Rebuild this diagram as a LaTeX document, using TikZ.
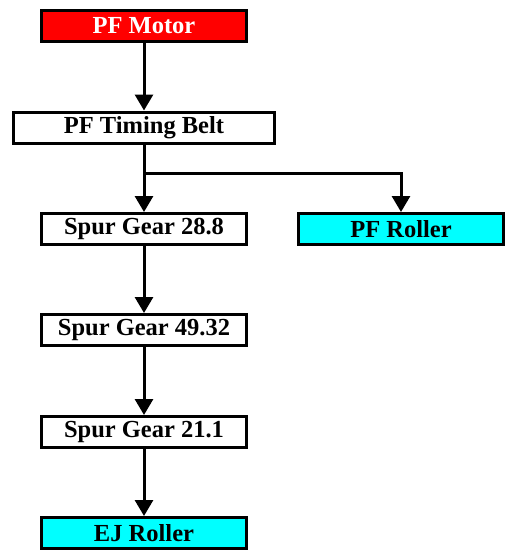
\documentclass[tikz,border=0pt]{standalone}
\usepackage{fontspec}
\setmainfont{Liberation Serif}
\usetikzlibrary{arrows.meta}
\definecolor{aqua}{RGB}{0,255,255}
\definecolor{pfred}{RGB}{255,0,0}
\begin{document}
\begin{tikzpicture}[x=1pt,y=-1pt,
  box/.style={draw=black,line width=3pt,minimum width=205pt,minimum height=31pt,inner sep=0pt,font=\bfseries\fontsize{24.5}{27}\selectfont,fill=white},
  conn/.style={line width=3pt,-{Triangle[width=18pt,length=16pt]}}]
\useasboundingbox (0,0) rectangle (516,560);
\node[box,fill=pfred,text=white] (motor) at (144,26) {PF Motor};
\node[box,minimum width=261pt] (belt) at (144,127.5) {PF Timing Belt};
\node[box] (g28) at (144,229) {Spur Gear 28.8};
\node[box,fill=aqua] (pfr) at (401,229) {PF Roller};
\node[box] (g49) at (144,330) {Spur Gear 49.32};
\node[box] (g21) at (144,432) {Spur Gear 21.1};
\node[box,fill=aqua] (ej) at (144,533) {EJ Roller};
\coordinate (br) at (144,173);
\draw[conn] (motor) -- (belt);
\draw[conn] (belt) -- (g28);
\draw[conn] (br) -| (pfr.north);
\draw[conn] (g28) -- (g49);
\draw[conn] (g49) -- (g21);
\draw[conn] (g21) -- (ej);
\end{tikzpicture}
\end{document}
